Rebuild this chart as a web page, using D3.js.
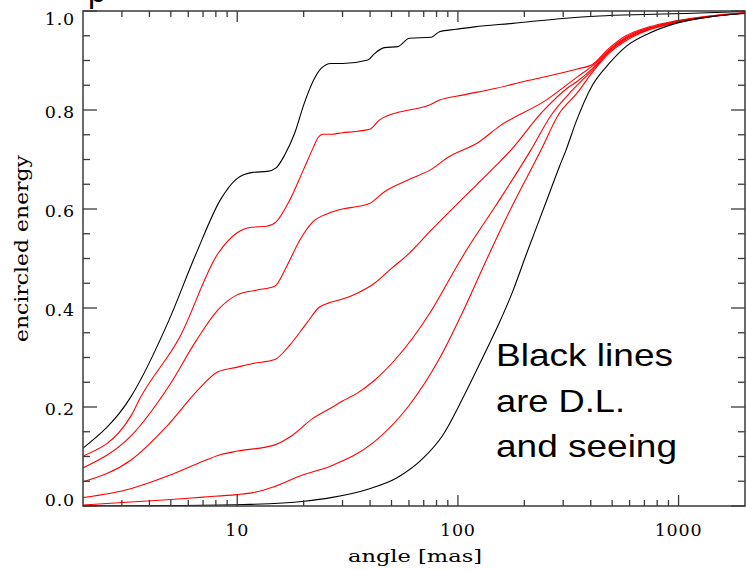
<!DOCTYPE html>
<html>
<head>
<meta charset="utf-8">
<script src="https://cdn.jsdelivr.net/npm/d3@7"></script>
<style>
  html, body { margin: 0; padding: 0; background: #fff; }
  svg { display: block; }
</style>
</head>
<body>
<script>
// ---- Data (angle in mas, encircled energy) ----
const dlAngle = [2, 3.29, 4.9, 6.47, 8.45, 9.88, 11.75, 13.7, 15.0, 16.4, 18.2, 20.1, 22.0, 24.0, 26.6, 30.1, 39.1, 41.9, 46.5, 53.4, 60.3, 75.7, 82.5, 98.2, 118.8, 177, 298, 437, 700, 1078, 2000];
const dlEE    = [0.117, 0.220, 0.375, 0.507, 0.621, 0.660, 0.674, 0.676, 0.683, 0.709, 0.753, 0.813, 0.857, 0.884, 0.894, 0.894, 0.901, 0.914, 0.926, 0.928, 0.945, 0.947, 0.958, 0.963, 0.968, 0.975, 0.985, 0.990, 0.993, 0.995, 0.999];

const ao1Angle = [2, 3.29, 3.62, 5.5, 8.18, 9.92, 11.6, 13.6, 15.0, 17.3, 19.9, 22.0, 23.3, 24.4, 26.6, 30, 35, 39.8, 44.2, 54.4, 60.3, 74.4, 82.5, 105, 149, 210, 348, 407, 485, 577, 736, 971, 1374, 2000];
const ao1EE    = [0.101, 0.181, 0.217, 0.342, 0.510, 0.551, 0.563, 0.565, 0.574, 0.618, 0.678, 0.722, 0.745, 0.751, 0.751, 0.754, 0.757, 0.761, 0.780, 0.796, 0.800, 0.810, 0.820, 0.830, 0.844, 0.860, 0.883, 0.892, 0.925, 0.950, 0.968, 0.980, 0.990, 0.997];

const ao2Angle = [2, 3.29, 4.93, 6.54, 8.18, 9.92, 12.2, 14.8, 16.7, 19.2, 22.0, 25.8, 30, 35, 39.8, 46.5, 60.3, 77, 88.5, 125, 154, 251, 348, 410, 485, 577, 736, 971, 1374, 2000];
const ao2EE    = [0.077, 0.141, 0.244, 0.335, 0.396, 0.426, 0.436, 0.444, 0.483, 0.537, 0.574, 0.591, 0.600, 0.605, 0.611, 0.635, 0.660, 0.682, 0.702, 0.736, 0.767, 0.820, 0.867, 0.890, 0.922, 0.947, 0.966, 0.979, 0.989, 0.996];

const ao3Angle = [2, 3.29, 4.93, 6.63, 8.18, 9.92, 11.8, 14.8, 17.3, 20.6, 23.6, 26.3, 30, 35, 41.9, 50, 59.3, 74.4, 105, 149, 174, 240, 315, 348, 410, 485, 577, 736, 971, 1374, 2000];
const ao3EE    = [0.049, 0.0925, 0.167, 0.234, 0.271, 0.280, 0.288, 0.296, 0.325, 0.369, 0.402, 0.411, 0.418, 0.430, 0.450, 0.480, 0.508, 0.554, 0.621, 0.688, 0.719, 0.795, 0.845, 0.858, 0.885, 0.920, 0.945, 0.965, 0.978, 0.989, 0.996];

const ao4Angle = [2, 3.29, 4.93, 6.63, 8.45, 10.05, 14.7, 17.8, 22, 26.6, 30, 35, 41.9, 52.5, 74.4, 98.2, 107, 149, 214, 265, 330, 410, 485, 577, 736, 971, 1374, 2000];
const ao4EE    = [0.017, 0.035, 0.062, 0.086, 0.104, 0.111, 0.123, 0.143, 0.177, 0.198, 0.212, 0.228, 0.254, 0.298, 0.389, 0.482, 0.510, 0.608, 0.719, 0.790, 0.840, 0.882, 0.918, 0.943, 0.963, 0.977, 0.988, 0.996];

const ao5Angle = [2, 3.29, 5, 7, 9.88, 11.75, 14.7, 19.6, 26.6, 41.9, 60.3, 82.5, 107, 134, 177, 238, 285, 348, 410, 485, 577, 736, 971, 1374, 2000];
const ao5EE    = [0.002, 0.008, 0.013, 0.018, 0.023, 0.027, 0.039, 0.062, 0.081, 0.130, 0.204, 0.298, 0.399, 0.495, 0.608, 0.719, 0.790, 0.835, 0.878, 0.915, 0.940, 0.962, 0.976, 0.988, 0.996];

const seeingAngle = [2, 5, 10.6, 20.1, 26.6, 39.8, 52.5, 69.4, 85.4, 105, 129.6, 154, 177, 203.6, 250, 288, 309, 343, 407, 485, 577, 736, 971, 1374, 2000];
const seeingEE    = [0.0005, 0.001, 0.003, 0.0097, 0.017, 0.035, 0.056, 0.096, 0.143, 0.217, 0.300, 0.370, 0.433, 0.507, 0.612, 0.685, 0.719, 0.776, 0.850, 0.894, 0.928, 0.955, 0.975, 0.988, 0.995];

const xMajorTicks = [10, 100, 1000];
const xMinorTicks = [3, 4, 5, 6, 7, 8, 9, 20, 30, 40, 50, 60, 70, 80, 90, 200, 300, 400, 500, 600, 700, 800, 900];
const yMajorTicks = [0, 0.2, 0.4, 0.6, 0.8, 1.0];
const yMinorTicks = [0.05, 0.1, 0.15, 0.25, 0.3, 0.35, 0.45, 0.5, 0.55, 0.65, 0.7, 0.75, 0.85, 0.9, 0.95];
const xLabel = "angle [mas]";
const yLabel = "encircled energy";
const noteLines = ["Black lines", "are D.L.", "and seeing"];

const series = [
  { a: ao1Angle, v: ao1EE, color: "#ff0000" },
  { a: ao2Angle, v: ao2EE, color: "#ff0000" },
  { a: ao3Angle, v: ao3EE, color: "#ff0000" },
  { a: ao4Angle, v: ao4EE, color: "#ff0000" },
  { a: ao5Angle, v: ao5EE, color: "#ff0000" },
  { a: dlAngle, v: dlEE, color: "#000000" },
  { a: seeingAngle, v: seeingEE, color: "#000000" }
];

// ---- Layout ----
const W = 746, H = 570;
const L = 83, R = 745, T = 11, B = 506;

const svg = d3.select("body").append("svg").attr("width", W).attr("height", H);

const x = d3.scaleLog().domain([2, 2000]).range([L, R]);
const y = d3.scaleLinear().domain([0, 1]).range([B, T]);

svg.append("defs").append("clipPath").attr("id", "plotclip")
  .append("rect").attr("x", L).attr("y", T).attr("width", R - L).attr("height", B - T);

// partially visible slide title glyph at the very top (cut off in the reference too)
svg.append("text").attr("x", 88).attr("y", 2)
  .attr("font-family", "Liberation Sans, Arial, sans-serif").attr("font-size", 32)
  .attr("fill", "#000").text("p");

// ---- Curves ----
const line = d3.line().curve(d3.curveMonotoneX).x(d => x(d[0])).y(d => y(d[1]));
const g = svg.append("g").attr("clip-path", "url(#plotclip)");
series.forEach(s => {
  const pts = s.a.map((a, i) => [a, s.v[i]]);
  g.append("path").attr("d", line(pts)).attr("fill", "none")
    .attr("stroke", s.color).attr("stroke-width", 1.1);
});

// ---- Frame ----
const axisColor = "#3a3a3a";
svg.append("rect").attr("x", L).attr("y", T).attr("width", R - L).attr("height", B - T)
  .attr("fill", "none").attr("stroke", axisColor).attr("stroke-width", 1.5);

// ---- Ticks (inward, all four sides) ----
const tg = svg.append("g").attr("stroke", axisColor).attr("stroke-width", 1.3);
function xTick(v, len) {
  tg.append("line").attr("x1", x(v)).attr("x2", x(v)).attr("y1", B).attr("y2", B - len);
  tg.append("line").attr("x1", x(v)).attr("x2", x(v)).attr("y1", T).attr("y2", T + len);
}
function yTick(v, len) {
  tg.append("line").attr("x1", L).attr("x2", L + len).attr("y1", y(v)).attr("y2", y(v));
  tg.append("line").attr("x1", R).attr("x2", R - len).attr("y1", y(v)).attr("y2", y(v));
}
xMajorTicks.forEach(v => xTick(v, 11));
xMinorTicks.forEach(v => xTick(v, 6));
yMajorTicks.forEach(v => yTick(v, 14));
yMinorTicks.forEach(v => yTick(v, 7));

// ---- Tick labels ----
const serif = "DejaVu Serif, Liberation Serif, serif";
xMajorTicks.forEach(v => {
  svg.append("text").attr("x", x(v)).attr("y", 536)
    .attr("text-anchor", "middle").attr("font-family", serif).attr("font-size", 17.5)
    .attr("letter-spacing", 0.8).attr("fill", "#000").text(d3.format("d")(v));
});
yMajorTicks.forEach(v => {
  const by = Math.max(25, Math.min(506, y(v) + 8));
  svg.append("text").attr("x", 75).attr("y", by)
    .attr("text-anchor", "end").attr("font-family", serif).attr("font-size", 17.5)
    .attr("letter-spacing", 0.8).attr("fill", "#000").text(d3.format(".1f")(v));
});

// ---- Axis titles ----
svg.append("text").attr("x", 348).attr("y", 562)
  .attr("font-family", serif).attr("font-size", 17)
  .attr("textLength", 134).attr("lengthAdjust", "spacingAndGlyphs")
  .attr("fill", "#000").text(xLabel);

svg.append("text")
  .attr("transform", "translate(28,342) rotate(-90)")
  .attr("x", 0).attr("y", 0)
  .attr("font-family", serif).attr("font-size", 18)
  .attr("textLength", 187).attr("lengthAdjust", "spacingAndGlyphs")
  .attr("fill", "#000").text(yLabel);

// ---- Annotation ----
const noteWidths = [177, 129, 181];
noteLines.forEach((t, i) => {
  svg.append("text").attr("x", 496).attr("y", 366 + i * 45.5)
    .attr("font-family", "Liberation Sans, Arial, sans-serif").attr("font-size", 32)
    .attr("textLength", noteWidths[i]).attr("lengthAdjust", "spacingAndGlyphs")
    .attr("fill", "#000").text(t);
});
</script>
</body>
</html>
